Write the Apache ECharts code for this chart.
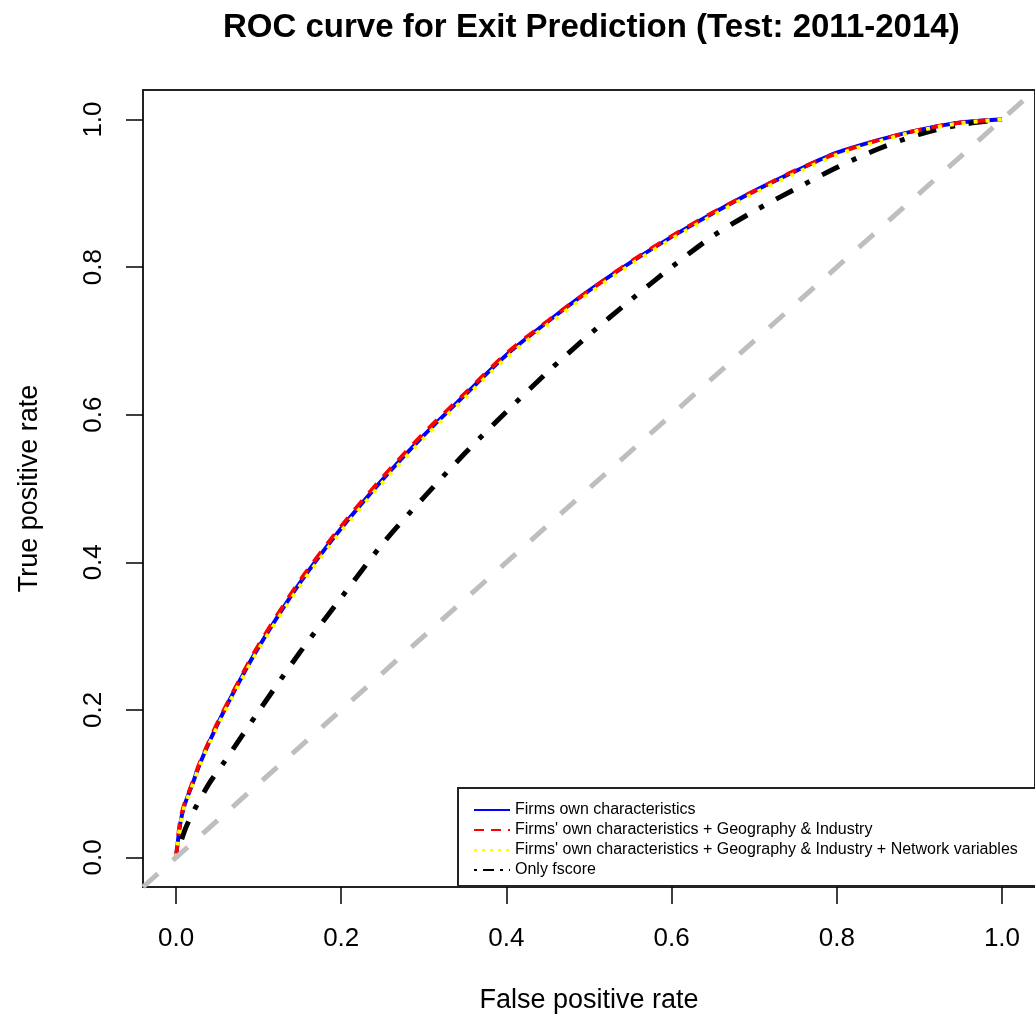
<!DOCTYPE html>
<html>
<head>
<meta charset="utf-8">
<title>ROC curve</title>
<script src="https://cdn.jsdelivr.net/npm/echarts@6/dist/echarts.min.js"></script>
<style>
	html, body { margin: 0; padding: 0; background: #fff; }
	#rocChart { width: 1035px; height: 1024px; }
</style>
</head>
<body>
<div id="rocChart"></div>
<script>
// 横轴刻度
var tickValues = [0, 0.2, 0.4, 0.6, 0.8, 1.0];

// 三个模型共用的假阳性率
var fprModel = [0, 0.005, 0.01, 0.02, 0.03, 0.05, 0.075, 0.1, 0.15, 0.2, 0.25, 0.3, 0.35, 0.4, 0.45, 0.5, 0.55, 0.6, 0.65, 0.7, 0.75, 0.8, 0.85, 0.9, 0.95, 1.0];
var tprOwn = [0, 0.045, 0.07, 0.1, 0.13, 0.18, 0.235, 0.285, 0.372, 0.446, 0.512, 0.572, 0.627, 0.681, 0.726, 0.768, 0.806, 0.841, 0.873, 0.903, 0.93, 0.955, 0.972, 0.986, 0.996, 1.0];
var tprGeo = [0, 0.05, 0.072, 0.102, 0.132, 0.182, 0.237, 0.288, 0.375, 0.449, 0.515, 0.575, 0.629, 0.683, 0.727, 0.768, 0.807, 0.842, 0.874, 0.903, 0.931, 0.954, 0.972, 0.986, 0.996, 1.0];
var tprNet = [0, 0.043, 0.068, 0.098, 0.128, 0.177, 0.232, 0.282, 0.368, 0.442, 0.508, 0.568, 0.623, 0.677, 0.722, 0.764, 0.803, 0.838, 0.87, 0.9, 0.927, 0.952, 0.97, 0.985, 0.995, 1.0];

// 只用 fscore
var fprScore = [0, 0.01, 0.02, 0.04, 0.06, 0.08, 0.1, 0.15, 0.2, 0.25, 0.3, 0.35, 0.4, 0.45, 0.5, 0.55, 0.6, 0.65, 0.7, 0.75, 0.8, 0.85, 0.9, 0.95, 1.0];
var tprScore = [0, 0.035, 0.06, 0.1, 0.132, 0.165, 0.198, 0.278, 0.352, 0.425, 0.488, 0.548, 0.604, 0.658, 0.708, 0.755, 0.8, 0.842, 0.876, 0.906, 0.935, 0.96, 0.98, 0.993, 1.0];

// 对角线
var diagX = [-0.04, 1.04];
var diagY = [-0.04, 1.04];

var seriesNames = [
	'Firms own characteristics',
	"Firms' own characteristics + Geography & Industry",
	"Firms' own characteristics + Geography & Industry + Network variables",
	'Only fscore'
];

function toPairs(xs, ys) {
	var out = [];
	for (var i = 0; i < xs.length; i++) {
		out.push([xs[i], ys[i]]);
	}
	return out;
}

var FONT = 'Liberation Sans, Arial, sans-serif';

function fmtTick(v) {
	return v.toFixed(1);
}

function getRocChart() {
	var myChart = echarts.init(document.getElementById('rocChart'));
	var option = {
		animation : false,
		backgroundColor : '#fff',
		title : {
			text : 'ROC curve for Exit Prediction (Test: 2011-2014)',
			left : 218,
			top : 6,
			textStyle : {
				fontFamily : FONT,
				fontSize : 33,
				fontWeight : 'bold',
				color : '#000'
			}
		},
		grid : {
			left : 143,
			top : 90,
			width : 899,
			height : 797,
			show : true,
			borderColor : '#222',
			borderWidth : 2,
			backgroundColor : 'transparent'
		},
		xAxis : {
			type : 'value',
			min : -0.04,
			max : 1.04,
			name : 'False positive rate',
			nameLocation : 'middle',
			nameGap : 100,
			nameTextStyle : { fontFamily : FONT, fontSize : 27, color : '#000' },
			axisLine : { show : false, onZero : false },
			splitLine : { show : false },
			axisTick : {
				show : true,
				inside : false,
				length : 17,
				lineStyle : { color : '#000', width : 1.5 },
				customValues : tickValues
			},
			axisLabel : {
				margin : 39,
				fontFamily : FONT,
				fontSize : 26,
				color : '#000',
				customValues : tickValues,
				formatter : fmtTick
			}
		},
		yAxis : {
			type : 'value',
			min : -0.04,
			max : 1.04,
			name : 'True positive rate',
			nameLocation : 'middle',
			nameGap : 100,
			nameTextStyle : { fontFamily : FONT, fontSize : 27, color : '#000' },
			axisLine : { show : false, onZero : false },
			splitLine : { show : false },
			axisTick : {
				show : true,
				inside : false,
				length : 17,
				lineStyle : { color : '#000', width : 1.5 },
				customValues : tickValues
			},
			axisLabel : {
				margin : 36,
				rotate : 90,
				fontFamily : FONT,
				fontSize : 26,
				color : '#000',
				customValues : tickValues,
				formatter : fmtTick
			}
		},
		legend : {
			orient : 'vertical',
			left : 473,
			top : 802,
			itemWidth : 36,
			itemHeight : 16,
			itemGap : 4,
			padding : 0,
			textStyle : { fontFamily : FONT, fontSize : 16, color : '#000' },
			itemStyle : { opacity : 0 },
			lineStyle : { width : 2 },
			data : [
				{ name : seriesNames[0] },
				{ name : seriesNames[1], lineStyle : { type : [10, 7] } },
				{ name : seriesNames[2], lineStyle : { type : [3, 5] } },
				{ name : seriesNames[3], lineStyle : { type : [3, 6, 11, 6] } }
			]
		},
		graphic : [ {
			type : 'rect',
			shape : { x : 458, y : 788, width : 600, height : 98 },
			style : { fill : '#fff', stroke : '#222', lineWidth : 2 },
			z : 0
		} ],
		series : [ {
			name : seriesNames[0],
			type : 'line',
			data : toPairs(fprModel, tprOwn),
			showSymbol : false,
			symbol : 'none',
			smooth : 0.3,
			lineStyle : { color : '#0000ff', width : 4 },
			itemStyle : { color : '#0000ff' },
			z : 3
		}, {
			name : seriesNames[1],
			type : 'line',
			data : toPairs(fprModel, tprGeo),
			showSymbol : false,
			symbol : 'none',
			smooth : 0.3,
			lineStyle : { color : '#ff0000', width : 4, type : [12, 10] },
			itemStyle : { color : '#ff0000' },
			z : 4
		}, {
			name : seriesNames[2],
			type : 'line',
			data : toPairs(fprModel, tprNet),
			showSymbol : false,
			symbol : 'none',
			smooth : 0.3,
			lineStyle : { color : '#ffff00', width : 4, type : [4, 8] },
			itemStyle : { color : '#ffff00' },
			z : 5
		}, {
			name : seriesNames[3],
			type : 'line',
			data : toPairs(fprScore, tprScore),
			showSymbol : false,
			symbol : 'none',
			smooth : 0.3,
			lineStyle : { color : '#000000', width : 5, type : [5, 14, 19, 14] },
			itemStyle : { color : '#000000' },
			z : 3
		}, {
			name : 'diagonal',
			type : 'line',
			data : toPairs(diagX, diagY),
			showSymbol : false,
			symbol : 'none',
			lineStyle : { color : '#bebebe', width : 5, type : [20, 20] },
			z : 6
		} ]
	};
	myChart.setOption(option);
}

getRocChart();
</script>
</body>
</html>
